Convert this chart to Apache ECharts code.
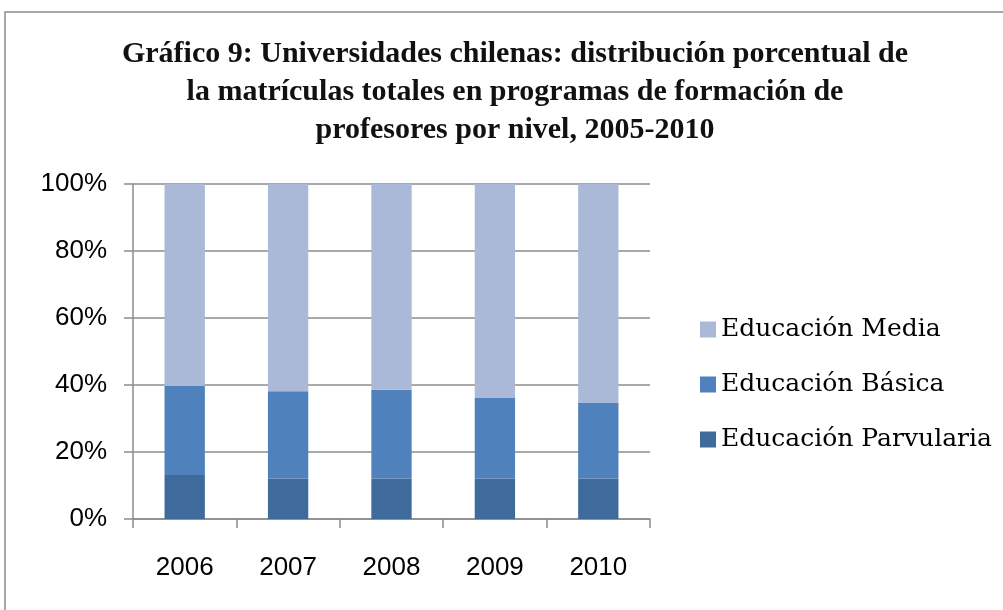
<!DOCTYPE html>
<html>
<head>
<meta charset="utf-8">
<script src="https://cdn.jsdelivr.net/npm/echarts@6/dist/echarts.min.js"></script>
<style>
  html, body { margin: 0; padding: 0; background: #fff; }
  #chart { width: 1003px; height: 610px; }
</style>
</head>
<body>
<div id="chart"></div>
<script>
// datos (%)
const years = ['2006', '2007', '2008', '2009', '2010']
const parvularia = [13.1, 12.1, 12.1, 12.1, 12.1]
const basica = [26.6, 26.0, 26.5, 24.0, 22.5]
const media = [60.3, 61.9, 61.4, 63.9, 65.4]
const yTicks = [0, 20, 40, 60, 80, 100]

const titleLines = [
  'Gráfico 9: Universidades chilenas: distribución porcentual de',
  'la matrículas totales en programas de formación de',
  'profesores por nivel, 2005-2010'
]

const chart = echarts.init(document.getElementById('chart'))

const mkSeries = (name, data, color) => ({
  name: name,
  type: 'bar',
  stack: 'total',
  barWidth: '39%',
  data: data,
  itemStyle: { color: color },
  emphasis: { disabled: true }
})

const options = {
  animation: false,
  textStyle: { fontFamily: 'Liberation Sans' },
  title: {
    text: titleLines.join('\n'),
    left: 510,
    top: 30,
    textAlign: 'center',
    textStyle: {
      fontFamily: 'Liberation Serif',
      fontWeight: 'bold',
      fontSize: 30,
      lineHeight: 38,
      color: '#111'
    }
  },
  legend: {
    orient: 'vertical',
    left: 695,
    top: 312,
    itemWidth: 16,
    itemHeight: 16,
    itemGap: 30,
    icon: 'rect',
    data: ['Educación Media', 'Educación Básica', 'Educación Parvularia'],
    textStyle: { fontFamily: 'DejaVu Serif', fontSize: 25, color: '#000' }
  },
  grid: { left: 133, top: 184, right: 353, bottom: 91 },
  xAxis: {
    type: 'category',
    data: years,
    axisLine: { lineStyle: { color: '#8c8c8c', width: 1.5 } },
    axisTick: { show: true, length: 9, lineStyle: { color: '#8c8c8c', width: 1.5 } },
    axisLabel: { fontSize: 26, color: '#000', margin: 36 }
  },
  yAxis: {
    type: 'value',
    min: 0,
    max: 100,
    interval: 20,
    axisLine: { show: true, lineStyle: { color: '#8c8c8c', width: 1.5 } },
    axisTick: { show: true, length: 9, lineStyle: { color: '#8c8c8c', width: 1.5 } },
    splitLine: { lineStyle: { color: '#8c8c8c', width: 1.5 } },
    axisLabel: {
      fontSize: 26,
      color: '#000',
      margin: 26,
      formatter: v => yTicks.includes(v) ? v + '%' : ''
    }
  },
  graphic: [{
    type: 'rect',
    shape: { x: 5, y: 12, width: 1010, height: 620 },
    style: { fill: 'none', stroke: '#8c8c8c', lineWidth: 1.5 },
    silent: true
  }],
  series: [
    mkSeries('Educación Parvularia', parvularia, '#3f6a9c'),
    mkSeries('Educación Básica', basica, '#4f81bd'),
    mkSeries('Educación Media', media, '#aab9d7')
  ]
}

chart.setOption(options)
</script>
</body>
</html>
